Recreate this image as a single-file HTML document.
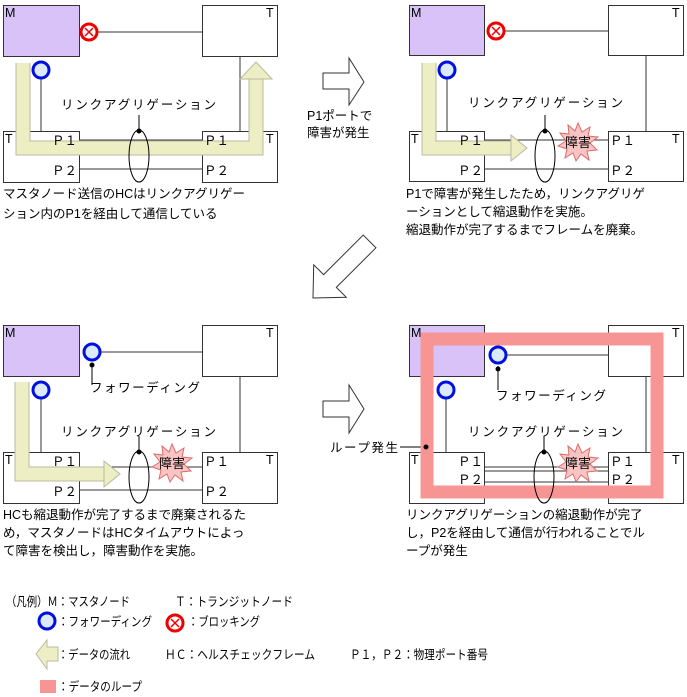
<!DOCTYPE html>
<html><head><meta charset="utf-8"><style>
html,body{margin:0;padding:0;background:#fff;}
svg{display:block;font-family:"Liberation Sans","Noto Sans CJK JP",sans-serif;}
text{font-size:12.5px;fill:#000;}
</style></head><body>
<svg width="687" height="697" viewBox="0 0 687 697" xmlns="http://www.w3.org/2000/svg">
<defs>
<g id="fwd"><circle r="8" fill="#dbe9f8" stroke="#0010e0" stroke-width="3"/></g>
<g id="blk"><circle r="8" fill="#fff" stroke="#ee0000" stroke-width="3"/><path d="M-4,-4L4,4M-4,4L4,-4" stroke="#ee0000" stroke-width="1.5"/></g>
<g id="burst"><polygon points="0,-19 4,-10 12,-15 10,-6 20,-5 12,1 19,8 9,9 11,18 3,12 -2,19 -5,11 -13,16 -11,7 -20,4 -12,-1 -18,-9 -9,-8 -10,-17 -3,-11" fill="#f9c4c4" stroke="#e06a6a" stroke-width="1"/><text x="-13" y="5" style="font-size:13px">障害</text></g>
</defs>

<!-- Panel 1 -->
<g>
<rect x="3.5" y="5.5" width="76" height="51" fill="#d9c2f7" stroke="#333"/>
<text x="5" y="17">M</text>
<rect x="202.5" y="5.5" width="75" height="51" fill="#fff" stroke="#333"/>
<text x="266" y="17">T</text>
<line x1="97" y1="32" x2="202" y2="32" stroke="#333"/>
<line x1="240" y1="56" x2="240" y2="131" stroke="#333"/>
<line x1="41" y1="77" x2="41" y2="131" stroke="#333"/>
<rect x="3.5" y="131.5" width="76" height="51" fill="#fff" stroke="#333"/>
<rect x="202.5" y="131.5" width="75" height="51" fill="#fff" stroke="#333"/>
<text x="5" y="143">T</text><text x="266" y="143">T</text>
<line x1="79" y1="140" x2="202" y2="140" stroke="#333"/>
<line x1="79" y1="143" x2="202" y2="143" stroke="#333"/>
<line x1="79" y1="169" x2="202" y2="169" stroke="#333"/>
<path d="M23,63 V148 H256 V78" fill="none" stroke="#b9b9a0" stroke-width="15"/>
<path d="M23,63 V148 H256 V78" fill="none" stroke="#eeeec4" stroke-width="13"/>
<polygon points="240,79 256,62 272,79" fill="#eeeec4" stroke="#b9b9a0"/>
<text x="52" y="145">Ｐ１</text><text x="52" y="175">Ｐ２</text>
<text x="204" y="145">Ｐ１</text><text x="204" y="175">Ｐ２</text>
<ellipse cx="139" cy="156" rx="10" ry="26" fill="none" stroke="#000"/>
<line x1="139" y1="115" x2="139" y2="131" stroke="#000"/><circle cx="139" cy="131" r="2.5"/>
<text x="61" y="109" textLength="155" lengthAdjust="spacing">リンクアグリゲーション</text>
<use href="#blk" x="89" y="32"/>
<use href="#fwd" x="41" y="70"/>
<text x="3" y="198">マスタノード送信のHCはリンクアグリゲー</text>
<text x="3" y="218">ション内のP1を経由して通信している</text>
</g>

<!-- Arrow 1 -->
<polygon points="323,73 349,73 349,58 364,82 349,105 349,89 323,89" fill="#fff" stroke="#333"/>
<text x="307" y="120">P1ポートで</text>
<text x="307" y="137">障害が発生</text>

<!-- Panel 2 -->
<g>
<rect x="409.5" y="5.5" width="75" height="50" fill="#d9c2f7" stroke="#333"/>
<text x="411" y="17">M</text>
<rect x="608.5" y="5.5" width="75" height="50" fill="#fff" stroke="#333"/>
<text x="672" y="17">T</text>
<line x1="504" y1="31" x2="608" y2="31" stroke="#333"/>
<line x1="646" y1="55" x2="646" y2="131" stroke="#333"/>
<line x1="447" y1="77" x2="447" y2="131" stroke="#333"/>
<rect x="409.5" y="131.5" width="75" height="50" fill="#fff" stroke="#333"/>
<rect x="608.5" y="131.5" width="75" height="50" fill="#fff" stroke="#333"/>
<text x="411" y="143">T</text><text x="672" y="143">T</text>
<line x1="484" y1="140" x2="608" y2="140" stroke="#333"/>
<line x1="484" y1="169" x2="608" y2="169" stroke="#333"/>
<path d="M429,63 V148 H512" fill="none" stroke="#b9b9a0" stroke-width="15"/>
<path d="M429,63 V148 H512" fill="none" stroke="#eeeec4" stroke-width="13"/>
<polygon points="511,135 527,148 511,161" fill="#eeeec4" stroke="#b9b9a0"/>
<text x="458" y="145">Ｐ１</text><text x="458" y="175">Ｐ２</text>
<text x="610" y="145">Ｐ１</text><text x="610" y="175">Ｐ２</text>
<ellipse cx="545" cy="156" rx="10" ry="26" fill="none" stroke="#000"/>
<line x1="545" y1="115" x2="545" y2="131" stroke="#000"/><circle cx="545" cy="131" r="2.5"/>
<text x="468" y="107" textLength="155" lengthAdjust="spacing">リンクアグリゲーション</text>
<use href="#burst" x="578" y="142"/>
<use href="#blk" x="496" y="31"/>
<use href="#fwd" x="447" y="70"/>
<text x="406" y="198">P1で障害が発生したため，リンクアグリゲ</text>
<text x="406" y="216">ーションとして縮退動作を実施。</text>
<text x="406" y="234">縮退動作が完了するまでフレームを廃棄。</text>
</g>

<!-- Diagonal arrow -->
<g transform="translate(313,298) rotate(135)">
<polygon points="0,0 -24,-23 -24,-9 -80,-9 -80,9 -24,9 -24,23" fill="#fff" stroke="#333"/>
</g>

<!-- Panel 3 -->
<g>
<rect x="3.5" y="325.5" width="76" height="51" fill="#d9c2f7" stroke="#333"/>
<text x="5" y="337">M</text>
<rect x="202.5" y="325.5" width="75" height="51" fill="#fff" stroke="#333"/>
<text x="266" y="337">T</text>
<line x1="100" y1="352" x2="202" y2="352" stroke="#333"/>
<line x1="240" y1="376" x2="240" y2="452" stroke="#333"/>
<line x1="41" y1="397" x2="41" y2="452" stroke="#333"/>
<rect x="3.5" y="452.5" width="76" height="51" fill="#fff" stroke="#333"/>
<rect x="202.5" y="452.5" width="75" height="51" fill="#fff" stroke="#333"/>
<text x="5" y="464">T</text><text x="266" y="464">T</text>
<line x1="79" y1="467" x2="202" y2="467" stroke="#333"/>
<line x1="79" y1="490" x2="202" y2="490" stroke="#333"/>
<path d="M22,382 V474 H105" fill="none" stroke="#b9b9a0" stroke-width="15"/>
<path d="M22,382 V474 H105" fill="none" stroke="#eeeec4" stroke-width="13"/>
<polygon points="104,461 120,474 104,487" fill="#eeeec4" stroke="#b9b9a0"/>
<text x="52" y="466">Ｐ１</text><text x="52" y="496">Ｐ２</text>
<text x="204" y="466">Ｐ１</text><text x="204" y="496">Ｐ２</text>
<ellipse cx="139" cy="477" rx="10" ry="26" fill="none" stroke="#000"/>
<line x1="139" y1="436" x2="139" y2="452" stroke="#000"/><circle cx="139" cy="452" r="2.5"/>
<text x="61" y="436" textLength="155" lengthAdjust="spacing">リンクアグリゲーション</text>
<use href="#burst" x="172" y="463"/>
<use href="#fwd" x="92" y="352"/>
<line x1="92" y1="364" x2="92" y2="385" stroke="#000"/><circle cx="92" cy="365" r="2.5"/>
<text x="90" y="392" textLength="110" lengthAdjust="spacing">フォワーディング</text>
<use href="#fwd" x="41" y="390"/>
<text x="3" y="519">HCも縮退動作が完了するまで廃棄されるた</text>
<text x="3" y="537">め，マスタノードはHCタイムアウトによっ</text>
<text x="3" y="555">て障害を検出し，障害動作を実施。</text>
</g>

<!-- Arrow 2 -->
<polygon points="323,401 349,401 349,385 364,409 349,433 349,417 323,417" fill="#fff" stroke="#333"/>
<text x="330" y="452" textLength="68" lengthAdjust="spacing">ループ発生</text>
<line x1="400" y1="447" x2="426" y2="447" stroke="#000"/>

<!-- Panel 4 -->
<g>
<rect x="409.5" y="325.5" width="75" height="51" fill="#d9c2f7" stroke="#333"/>
<text x="411" y="337">M</text>
<rect x="608.5" y="325.5" width="75" height="51" fill="#fff" stroke="#333"/>
<text x="672" y="337">T</text>
<line x1="506" y1="355" x2="608" y2="355" stroke="#333"/>
<line x1="646" y1="376" x2="646" y2="452" stroke="#333"/>
<line x1="446" y1="397" x2="446" y2="452" stroke="#333"/>
<rect x="409.5" y="452.5" width="75" height="51" fill="#fff" stroke="#333"/>
<rect x="608.5" y="452.5" width="75" height="51" fill="#fff" stroke="#333"/>
<text x="411" y="464">T</text><text x="672" y="464">T</text>
<line x1="484" y1="467" x2="608" y2="467" stroke="#333"/>
<line x1="484" y1="471" x2="608" y2="471" stroke="#333"/>
<line x1="484" y1="482" x2="608" y2="482" stroke="#333"/>
<line x1="484" y1="486" x2="608" y2="486" stroke="#333"/>
<rect x="427" y="339" width="230" height="153" fill="none" stroke="#f79494" stroke-width="13"/>
<circle cx="426" cy="447" r="2.5"/>
<text x="458" y="466">Ｐ１</text><text x="458" y="484">Ｐ２</text>
<text x="610" y="466">Ｐ１</text><text x="610" y="484">Ｐ２</text>
<ellipse cx="544" cy="477" rx="10" ry="26" fill="none" stroke="#000"/>
<line x1="544" y1="436" x2="544" y2="452" stroke="#000"/><circle cx="544" cy="452" r="2.5"/>
<text x="468" y="436" textLength="155" lengthAdjust="spacing">リンクアグリゲーション</text>
<use href="#burst" x="578" y="463"/>
<use href="#fwd" x="498" y="355"/>
<line x1="498" y1="366" x2="498" y2="390" stroke="#000"/><circle cx="498" cy="369" r="2.5"/>
<text x="496" y="400" textLength="110" lengthAdjust="spacing">フォワーディング</text>
<use href="#fwd" x="446" y="390"/>
<text x="406" y="519">リンクアグリゲーションの縮退動作が完了</text>
<text x="406" y="537">し，P2を経由して通信が行われることでル</text>
<text x="406" y="555">ープが発生</text>
</g>

<!-- Legend -->
<text x="6" y="606" textLength="124" lengthAdjust="spacingAndGlyphs">（凡例）Ｍ：マスタノード</text>
<text x="175" y="606" textLength="118" lengthAdjust="spacingAndGlyphs">Ｔ：トランジットノード</text>
<use href="#fwd" x="47" y="621"/>
<text x="58" y="626" textLength="94" lengthAdjust="spacingAndGlyphs">：フォワーディング</text>
<use href="#blk" x="175" y="623"/>
<text x="188" y="626" textLength="72" lengthAdjust="spacingAndGlyphs">：ブロッキング</text>
<polygon points="36,654 47,640 47,647 58,647 58,661 47,661 47,669" fill="#eeeec4" stroke="#b9b9a0"/>
<text x="58" y="659" textLength="72" lengthAdjust="spacingAndGlyphs">：データの流れ</text>
<text x="165" y="659" textLength="150" lengthAdjust="spacingAndGlyphs">ＨＣ：ヘルスチェックフレーム</text>
<text x="350" y="659" textLength="138" lengthAdjust="spacingAndGlyphs">Ｐ１，Ｐ２：物理ポート番号</text>
<rect x="40" y="680" width="16" height="13" fill="#f79494"/>
<text x="58" y="691" textLength="84" lengthAdjust="spacingAndGlyphs">：データのループ</text>
</svg>
</body></html>
